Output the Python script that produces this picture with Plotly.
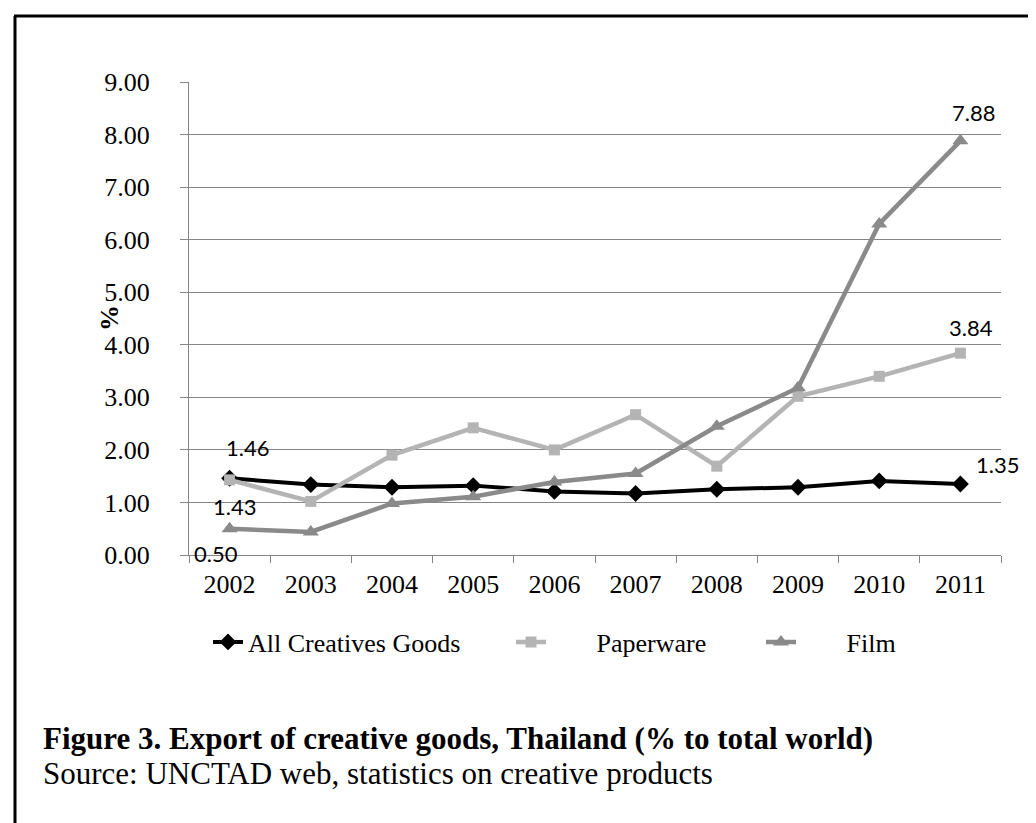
import plotly.graph_objects as go

years = ["2002", "2003", "2004", "2005", "2006", "2007", "2008", "2009", "2010", "2011"]
all_creative = [1.46, 1.34, 1.29, 1.32, 1.21, 1.17, 1.25, 1.29, 1.41, 1.35]
paperware = [1.43, 1.02, 1.90, 2.42, 2.00, 2.67, 1.69, 3.02, 3.40, 3.84]
film = [0.50, 0.44, 0.98, 1.11, 1.39, 1.55, 2.45, 3.18, 6.30, 7.88]
y_ticks = [0, 1, 2, 3, 4, 5, 6, 7, 8, 9]

SERIF = "Liberation Serif, Times New Roman, serif"
SANS = "Lato, Carlito, Calibri, sans-serif"
GRID = "#868686"

L, R, T, B = 181, 43, 74, 276
W, H = 1036, 823
pw, ph = W - L - R, H - T - B


def px_x(px):
    return (px - L) / pw


def px_y(py):
    return (H - B - py) / ph


fig = go.Figure()
fig.add_trace(go.Scatter(
    x=years, y=all_creative, name="All Creatives Goods", mode="lines+markers",
    line=dict(color="#000000", width=4), marker=dict(symbol="diamond", size=13, color="#000000"),
    legend="legend"))
fig.add_trace(go.Scatter(
    x=years, y=paperware, name="\u00a0" * 7 + "Paperware", mode="lines+markers",
    line=dict(color="#b4b4b4", width=4.5), marker=dict(symbol="square", size=11, color="#b4b4b4"),
    legend="legend2"))
fig.add_trace(go.Scatter(
    x=years, y=film, name="\u00a0" * 7 + "Film", mode="lines+markers",
    line=dict(color="#8a8a8a", width=4.5), marker=dict(symbol="triangle-up", size=14, color="#8a8a8a"),
    legend="legend3"))

# data labels (first and last values); x given as category index
first, last = 0, len(years) - 1
labels = [
    (first, all_creative[first], 18, 31),
    (first, paperware[first], 5, -27),
    (first, film[first], -14, -25),
    (last, film[last], 13, 28),
    (last, paperware[last], 11, 26),
    (last, all_creative[last], 37, 20),
]
ann = []
for xv, yv, dx, dy in labels:
    ann.append(dict(x=xv, y=yv, xref="x", yref="y", text=f"{yv:.2f}", showarrow=False,
                    xshift=dx, yshift=dy, font=dict(family=SANS, size=22, color="#000000")))

ann.append(dict(x=px_x(85), y=0.5, xref="paper", yref="paper", text="<b>%</b>", textangle=-90,
                showarrow=False, font=dict(family=SERIF, size=26, color="#000000")))
ann.append(dict(x=px_x(33), y=px_y(730), xref="paper", yref="paper", xanchor="left", yanchor="middle",
                text="<b>Figure 3. Export of creative goods, Thailand (% to total world)</b>",
                showarrow=False, font=dict(family=SERIF, size=31, color="#000000")))
ann.append(dict(x=px_x(33), y=px_y(765), xref="paper", yref="paper", xanchor="left", yanchor="middle",
                text="Source: UNCTAD web, statistics on creative products",
                showarrow=False, font=dict(family=SERIF, size=31, color="#000000")))

shapes = [
    dict(type="line", xref="paper", yref="paper", x0=px_x(7), x1=px_x(7), y0=px_y(8), y1=px_y(830),
         line=dict(color="#000000", width=3)),
    dict(type="line", xref="paper", yref="paper", x0=px_x(6), x1=px_x(1040), y0=px_y(8), y1=px_y(8),
         line=dict(color="#000000", width=3)),
]

leg_font = dict(family=SERIF, size=26, color="#000000")
leg_y = px_y(634)
fig.update_layout(
    width=W, height=H,
    margin=dict(l=L, r=R, t=T, b=B),
    paper_bgcolor="white", plot_bgcolor="white",
    showlegend=True,
    legend=dict(x=px_x(200), y=leg_y, xanchor="left", yanchor="middle", orientation="h",
                font=leg_font, bgcolor="rgba(0,0,0,0)"),
    legend2=dict(x=px_x(503), y=leg_y, xanchor="left", yanchor="middle", orientation="h",
                 font=leg_font, bgcolor="rgba(0,0,0,0)"),
    legend3=dict(x=px_x(753), y=leg_y, xanchor="left", yanchor="middle", orientation="h",
                 font=leg_font, bgcolor="rgba(0,0,0,0)"),
    xaxis=dict(type="category", range=[-0.5, 9.5], showline=True, linecolor=GRID, linewidth=1,
               showgrid=False, ticks="outside", tickson="boundaries", ticklen=7, tickcolor=GRID,
               tickfont=dict(family=SERIF, size=26, color="#000000"), ticklabelstandoff=6,
               fixedrange=True),
    yaxis=dict(range=[0, 9], tickvals=y_ticks, tickformat=".2f", showline=True, linecolor=GRID,
               linewidth=1, showgrid=True, gridcolor=GRID, gridwidth=1, zeroline=False,
               ticks="outside", ticklen=8, tickcolor=GRID,
               tickfont=dict(family=SERIF, size=26, color="#000000"), ticklabelstandoff=25,
               fixedrange=True),
    annotations=ann,
    shapes=shapes,
)

fig.write_html("out.html")
